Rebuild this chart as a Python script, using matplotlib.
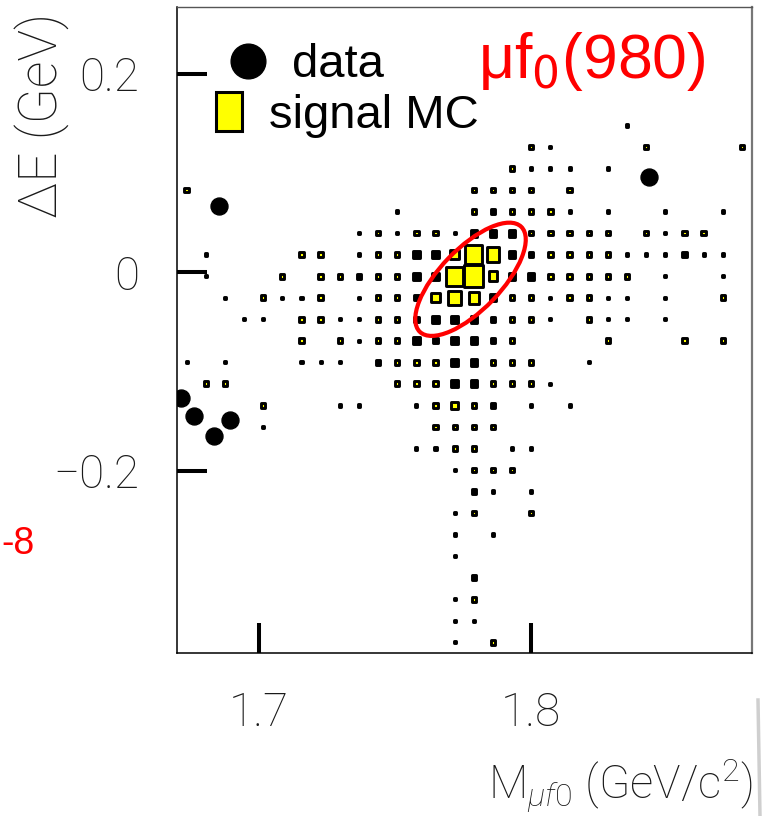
import matplotlib
matplotlib.use("Agg")
import matplotlib.pyplot as plt
import numpy as np
from matplotlib.patches import Rectangle, Ellipse
from matplotlib.lines import Line2D
import matplotlib.transforms as mtransforms

plt.rcParams['mathtext.fontset'] = 'custom'
plt.rcParams['mathtext.rm'] = 'Roboto:light'
plt.rcParams['mathtext.it'] = 'Roboto:italic:light'
plt.rcParams['mathtext.bf'] = 'Roboto:bold'
plt.rcParams['font.family'] = ['Liberation Sans', 'DejaVu Sans']

# ---------------- data ----------------
m_range = (1.670, 1.881)        # M_{mu f0} axis range (GeV/c^2)
de_range = (-0.384, 0.2675)     # Delta E axis range (GeV)
n_bins = 30

# signal MC box histogram (yellow boxes), rows from top (high dE) to bottom, 30 columns
signal_mc = [
    "", "", "", "", "", "",
    "..................2.....2....2",
    ".................2",
    "2..............2222.2",
    "...............2.222",
    "..........2.22....22222.2.22",
    "......22..22..486..2222",
    ".....2.22.22..894..22222",
    "....2..2..22.465.22.22......2",
    "......22..22.....22..2",
    "......2.2.22.....2....2...2.2",
    "...........222..222",
    ".22........222..222",
    "....2........232",
    ".............2222",
    "..............22",
    "...............222",
    "",
    "...............2..2",
    "", "", "",
    "...............2",
    "",
    "................2",
]

# other MC box histogram (small black boxes), same layout
other_mc = [
    "", "", "", "", "",
    ".......................1",
    "...................1",
    "..................111.1",
    "",
    "...........1....2...1.1..1..1",
    ".........1.1..1333.......1",
    ".1.......1..33...32....111211",
    ".1.......2..33...33......1..1",
    "..1..11..1..2...3..1..11.1",
    "...11...11..23332..1..11.1",
    ".........1..32332",
    "1.1...111.2...33.....1",
    "..............33...1",
    "........11..1...2.1.1",
    "....1",
    "............11...11",
    "..............1",
    "...............21.1",
    "..............1",
    "..............1.1",
    "..............1",
    "...............2",
    "..............1",
    "..............11",
    "..............1",
]
box_max = 9

# data events
data_m = [1.6855, 1.8433, 1.6716, 1.6762, 1.6836, 1.6894]
data_de = [0.0672, 0.0964, -0.1265, -0.1451, -0.1651, -0.1487]

# signal region ellipse
ellipse_center = (1.7778, -0.0071)

x_ticks = [1.7, 1.8]
x_ticklabels = ["1.7", "1.8"]
y_ticks = [-0.2, 0.0, 0.2]
y_ticklabels = ["\u22120.2", "0", "0.2"]

# ---------------- figure ----------------
W, H = 764, 816
fig = plt.figure(figsize=(W / 100, H / 100), dpi=100)
fig.patch.set_facecolor('white')

def fx(px):
    return px / W

def fy(py):
    return 1 - py / H

ax = fig.add_axes([fx(177), fy(653), fx(751.5) - fx(177), fy(7) - fy(653)])
ax.set_xlim(*m_range)
ax.set_ylim(*de_range)

x_edges = np.linspace(m_range[0], m_range[1], n_bins + 1)
y_edges = np.linspace(de_range[0], de_range[1], n_bins + 1)
xc = 0.5 * (x_edges[:-1] + x_edges[1:])
yc = 0.5 * (y_edges[:-1] + y_edges[1:])
bw = x_edges[1] - x_edges[0]
bh = y_edges[1] - y_edges[0]


def to_grid(rows):
    arr = np.zeros((n_bins, n_bins))
    for r, s in enumerate(rows):
        for c, ch in enumerate(s.ljust(n_bins, '.')[:n_bins]):
            if ch != '.':
                arr[n_bins - 1 - r, c] = int(ch)
    return arr


def draw_boxes(arr, face):
    for iy in range(n_bins):
        for ix in range(n_bins):
            v = arr[iy, ix]
            if v <= 0:
                continue
            f = v / box_max
            w, h = f * bw, f * bh
            ax.add_patch(Rectangle((xc[ix] - w / 2, yc[iy] - h / 2), w, h,
                                   facecolor=face, edgecolor='black',
                                   linewidth=2.1, joinstyle='round', zorder=3))


draw_boxes(to_grid(other_mc), 'black')
draw_boxes(to_grid(signal_mc), '#ffff00')

ax.plot(data_m, data_de, 'o', color='black', markersize=12.2, zorder=5)

# ellipse drawn in pixel units around its data-space center
ell_trans = mtransforms.Affine2D() + mtransforms.ScaledTranslation(
    ellipse_center[0], ellipse_center[1], ax.transData)
ax.add_patch(Ellipse((0, 0), width=2 * 73, height=2 * 30.5, angle=46,
                     transform=ell_trans, fill=False, edgecolor='#ff0000',
                     linewidth=3.0, zorder=6))

# axes styling
for side in ['left', 'bottom']:
    ax.spines[side].set_linewidth(1.1)
    ax.spines[side].set_color('black')
ax.spines['top'].set_linewidth(1.0)
ax.spines['top'].set_color('#555555')
ax.spines['right'].set_linewidth(1.6)
ax.spines['right'].set_color('#777777')

ax.set_xticks(x_ticks)
ax.set_yticks(y_ticks)
ax.set_xticklabels(x_ticklabels, fontfamily='Roboto', fontweight='light')
ax.set_yticklabels(y_ticklabels, fontfamily='Roboto', fontweight='light')
ax.tick_params(axis='both', which='major', direction='in', length=21.6,
               width=2.9, pad=27, labelsize=33, top=False, right=False,
               colors='black', labelcolor='#1a1a1a')
ax.minorticks_off()

# axis titles
fig.text(fx(42), fy(115), "\u0394E (GeV)", rotation=90, ha='center',
         va='center', fontsize=38, fontfamily='Roboto', fontweight='light',
         color='#1a1a1a')
fig.text(fx(752), fy(799), r"M$_{\mu f0}$ (GeV/c$^{2}$)", ha='right',
         va='baseline', fontsize=33, fontfamily='Roboto', fontweight='light',
         color='#1a1a1a')

# title / decay label
fig.text(fx(478), fy(78), "\u03bcf$_{0}$(980)", ha='left', va='baseline',
         fontsize=45, color='#ff0000', math_fontfamily='dejavusans')

# stray red label at left edge
fig.text(fx(35), fy(554), "-8", ha='right', va='baseline', fontsize=27,
         color='#ff0000')

# legend (manual)
fig.add_artist(Line2D([fx(247.5)], [fy(60.8)], marker='o', color='black',
                      markersize=25, linestyle='none'))
fig.text(fx(291.7), fy(77.3), "data", ha='left', va='baseline', fontsize=34,
         color='black')
fig.add_artist(Rectangle((fx(215.5), fy(130.8)), fx(241.5) - fx(215.5),
                         fy(92.2) - fy(130.8), transform=fig.transFigure,
                         facecolor='#ffff00', edgecolor='black', linewidth=2.2))
fig.text(fx(269), fy(128), "signal MC", ha='left', va='baseline', fontsize=34,
         color='black')

# faint page-edge shadow at lower right
fig.add_artist(Line2D([fx(758), fx(760)], [fy(700), fy(816)], color='#cfcfcf',
                      linewidth=2.5))

fig.savefig("out.png", dpi=100, facecolor='white')
